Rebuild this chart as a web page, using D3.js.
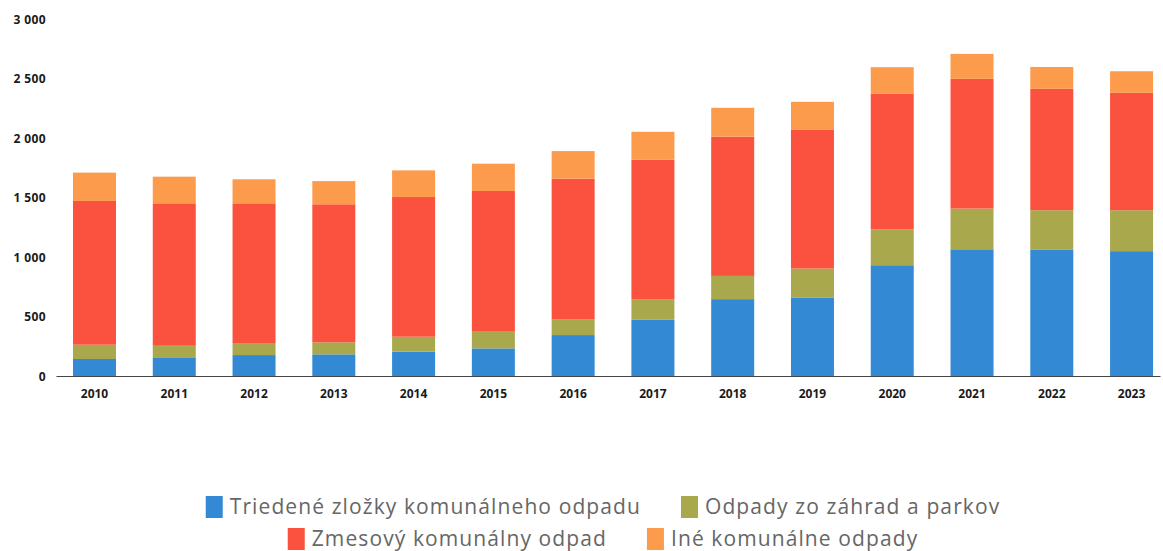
<!DOCTYPE html>
<html>
<head>
<meta charset="utf-8">
<script src="https://cdn.jsdelivr.net/npm/d3@7"></script>
<style>
  html, body { margin: 0; padding: 0; background: #fff; }
  svg { display: block; }
</style>
</head>
<body>
<svg id="chart" width="1163" height="551"></svg>
<script>
const years = ["2010","2011","2012","2013","2014","2015","2016","2017","2018","2019","2020","2021","2022","2023"];
const triedene = [143,157,176,182,204,232,344,472,646,660,931,1065,1060,1049];
const zahrady  = [120,97,101,101,126,140,134,174,195,243,302,342,333,344];
const zmesovy  = [1208,1197,1174,1160,1174,1183,1180,1172,1170,1169,1141,1090,1020,987];
const ine      = [238,224,202,195,224,229,232,234,243,232,221,210,184,181];
const seriesNames = ["Triedené zložky komunálneho odpadu","Odpady zo záhrad a parkov","Zmesový komunálny odpad","Iné komunálne odpady"];
const seriesKeys = ["triedene","zahrady","zmesovy","ine"];
const colors = ["#3389d4","#a9a84c","#fb5240","#fd9b4d"];
const yTicks = [0,500,1000,1500,2000,2500,3000];

const rows = years.map((y,i)=>({year:y, triedene:triedene[i], zahrady:zahrady[i], zmesovy:zmesovy[i], ine:ine[i]}));
const stacked = d3.stack().keys(seriesKeys)(rows);

const svg = d3.select("#chart");
const x = d3.scaleBand().domain(years).range([56,1160]).paddingInner(0.461).paddingOuter(0.15).align(0.71);
const y = d3.scaleLinear().domain([0,3000]).range([376,19]);
const color = d3.scaleOrdinal().domain(seriesKeys).range(colors);

// bars
svg.append("g").selectAll("g").data(stacked).join("g")
  .attr("fill", d=>color(d.key))
  .selectAll("rect").data(d=>d).join("rect")
  .attr("x", d=>x(d.data.year))
  .attr("width", x.bandwidth())
  .attr("y", d=>y(d[1]))
  .attr("height", d=>y(d[0])-y(d[1]));

// y axis labels
const fmt = v => v >= 1000 ? d3.format(",")(v).replace(",", " ") : String(v);
const yAxis = svg.append("g").attr("transform","translate(46,0)")
  .call(d3.axisLeft(y).tickValues(yTicks).tickSize(0).tickPadding(0).tickFormat(fmt));
yAxis.select(".domain").remove();
yAxis.selectAll("text").attr("font-family","'Open Sans', sans-serif").attr("font-weight",700)
  .attr("font-size","12px").attr("letter-spacing","0.4px").attr("fill","#1a1a1a").attr("dy","0.35em");

// x axis
const xAxis = svg.append("g").attr("transform","translate(0,376)")
  .call(d3.axisBottom(x).tickSize(0).tickPadding(13));
xAxis.select(".domain").attr("stroke","#444").attr("stroke-width",1.2);
xAxis.selectAll("text").attr("font-family","'Open Sans', sans-serif").attr("font-weight",700)
  .attr("font-size","12px").attr("fill","#1a1a1a");

// legend
const legendRows = [[0,1],[2,3]];
const rowY = [507, 539];
const fontSize = 21;
legendRows.forEach((r, ri) => {
  const g = svg.append("g");
  let cx = 0;
  r.forEach((si, k) => {
    if (k > 0) cx += 40;
    g.append("rect").attr("x", cx).attr("y", rowY[ri]-11).attr("width", 17).attr("height", 22)
      .attr("fill", colors[si]);
    cx += 24;
    const t = g.append("text").attr("x", cx).attr("y", rowY[ri]).attr("dy","0.35em")
      .attr("font-family","'Open Sans', sans-serif").attr("font-weight",400)
      .attr("font-size", fontSize+"px").attr("letter-spacing","1.1px").attr("fill","#666")
      .text(seriesNames[si]);
    cx += t.node().getComputedTextLength();
  });
  g.attr("transform", `translate(${603 - cx/2},0)`);
});
</script>
</body>
</html>
